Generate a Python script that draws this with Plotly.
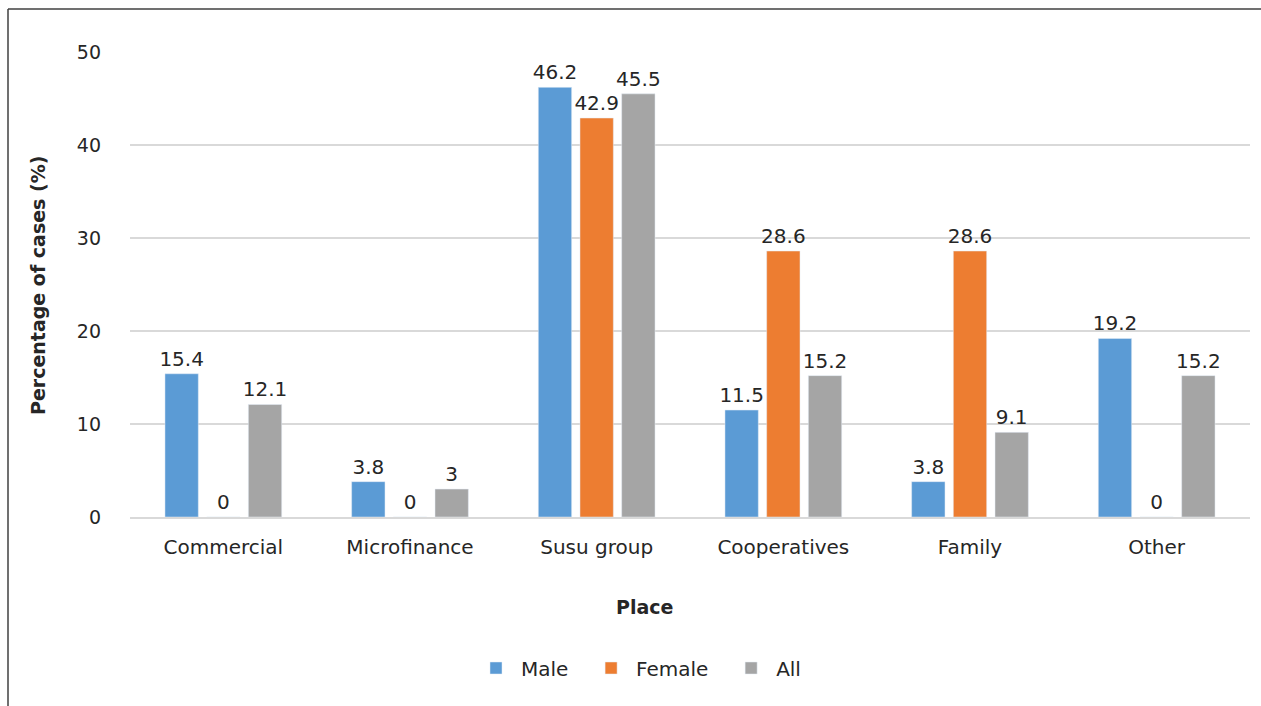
import plotly.graph_objects as go

categories = ["Commercial", "Microfinance", "Susu group", "Cooperatives", "Family", "Other"]
male = [15.4, 3.8, 46.2, 11.5, 3.8, 19.2]
female = [0, 0, 42.9, 28.6, 28.6, 0]
all_ = [12.1, 3, 45.5, 15.2, 9.1, 15.2]
series_names = ["Male", "Female", "All"]
colors = ["#5B9BD5", "#ED7D31", "#A5A5A5"]
yticks = [0, 10, 20, 30, 40, 50]

FONT = "DejaVu Sans"
TXT = "#262626"

fig = go.Figure()
for name, vals, col in zip(series_names, [male, female, all_], colors):
    fig.add_trace(go.Bar(
        x=categories, y=vals, name=name + "\u00a0\u00a0", marker_color=col,
        text=[f"{v:g}" for v in vals], textposition="outside",
        textfont=dict(family=FONT, size=20, color=TXT),
        constraintext="none", cliponaxis=False,
    ))

W, H = 1261, 706
L, R, T, B = 130, 11, 52, 189
pw, ph = W - L - R, H - T - B

def px(x):
    return (x - L) / pw

def py(y):
    return (H - B - y) / ph

fig.update_layout(
    width=W, height=H,
    margin=dict(l=L, r=R, t=T, b=B),
    paper_bgcolor="white", plot_bgcolor="white",
    barmode="group", bargap=0.33, bargroupgap=0.2,
    font=dict(family=FONT, color=TXT),
    showlegend=True,
    legend=dict(orientation="h", x=px(645), xanchor="center", y=py(668), yanchor="middle",
                font=dict(family=FONT, size=20, color=TXT), itemwidth=40,
                traceorder="normal"),
    xaxis=dict(tickfont=dict(family=FONT, size=20, color=TXT), showline=True,
               linecolor="#d9d9d9", linewidth=1.5, ticks="", ticklabelstandoff=11),
    yaxis=dict(range=[0, 50], tickvals=yticks, tickfont=dict(family=FONT, size=19, color=TXT),
               gridcolor="#d9d9d9", gridwidth=1.5, zeroline=False, showline=False,
               ticklabelstandoff=28),
    annotations=[
        dict(text="<b>Place</b>", xref="paper", yref="paper", x=px(644), y=py(607),
             showarrow=False, font=dict(family=FONT, size=19, color=TXT), xanchor="center", yanchor="middle"),
        dict(text="<b>Percentage of cases (%)</b>", xref="paper", yref="paper", x=px(38), y=py(286),
             textangle=-90, showarrow=False, font=dict(family=FONT, size=19, color=TXT),
             xanchor="center", yanchor="middle"),
    ],
    shapes=[
        dict(type="line", xref="paper", yref="paper", x0=px(8), x1=px(1265), y0=py(9), y1=py(9),
             line=dict(color="#404040", width=1.5)),
        dict(type="line", xref="paper", yref="paper", x0=px(8), x1=px(8), y0=py(9), y1=py(710),
             line=dict(color="#404040", width=1.5)),
    ],
)

fig.write_html("out.html", config={"displayModeBar": False},
               post_script="document.body.style.margin='0';")
